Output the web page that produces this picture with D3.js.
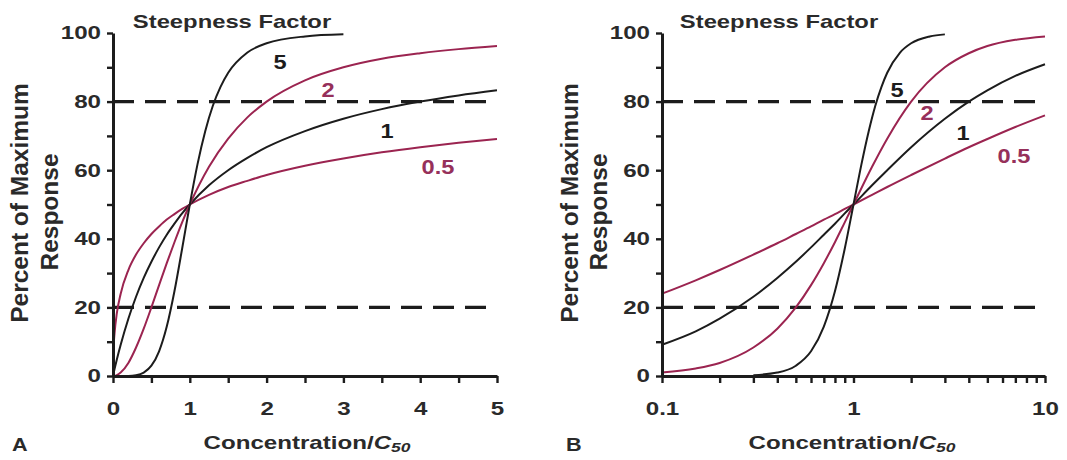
<!DOCTYPE html>
<html><head><meta charset="utf-8">
<script src="https://cdn.jsdelivr.net/npm/d3@7"></script>
<style>
html,body{margin:0;padding:0;background:#fff;}
svg{display:block;}
text{font-family:"Liberation Sans",Arial,sans-serif;font-weight:bold;}
</style></head>
<body>
<svg id="chart" width="1067" height="460"></svg>
<script>
// ---------- data ----------
const steepness = ["0.5", "1", "2", "5"];
const yTicks = [0, 10, 20, 30, 40, 50, 60, 70, 80, 90, 100];
const yTickLabels = ["0", "", "20", "", "40", "", "60", "", "80", "", "100"];
const guideLevels = [20, 80];

// Panel A (linear concentration)
const xTicksA = [0, 0.5, 1, 1.5, 2, 2.5, 3, 3.5, 4, 4.5, 5];
const xTickLabelsA = ["0", "", "1", "", "2", "", "3", "", "4", "", "5"];
const concA = [0, 0.01, 0.02, 0.05, 0.1, 0.2, 0.3, 0.4, 0.5, 0.6, 0.7, 0.8, 0.9, 1, 1.25, 1.5, 1.75, 2, 2.5, 3, 3.5, 4, 4.5, 5];
const respA_05 = [0, 9.1, 12.4, 18.3, 24.0, 30.9, 35.4, 38.7, 41.4, 43.6, 45.6, 47.2, 48.7, 50, 52.8, 55.1, 56.9, 58.6, 61.3, 63.4, 65.2, 66.7, 68.0, 69.1];
const respA_1 = [0, 1.0, 2.0, 4.8, 9.1, 16.7, 23.1, 28.6, 33.3, 37.5, 41.2, 44.4, 47.4, 50, 55.6, 60, 63.6, 66.7, 71.4, 75, 77.8, 80, 81.8, 83.3];
const respA_2 = [0, 0.01, 0.04, 0.25, 1.0, 3.8, 8.3, 13.8, 20, 26.5, 32.9, 39.0, 44.8, 50, 61.0, 69.2, 75.4, 80, 86.2, 90, 92.5, 94.1, 95.3, 96.2];
const concA5 = [0, 0.2, 0.3, 0.4, 0.5, 0.6, 0.7, 0.8, 0.9, 1, 1.1, 1.2, 1.3, 1.4, 1.5, 1.75, 2, 2.5, 3];
const respA_5 = [0, 0.03, 0.24, 1.0, 3.0, 7.2, 14.4, 24.7, 37.1, 50, 61.7, 71.3, 78.8, 84.3, 88.4, 94.3, 97.0, 99.0, 99.6];

// Panel B (log concentration)
const xTicksB = [0.1, 0.2, 0.3, 0.4, 0.5, 0.6, 0.7, 0.8, 0.9, 1, 2, 3, 4, 5, 6, 7, 8, 9, 10];
const xTickLabelsB = ["0.1", "", "", "", "", "", "", "", "", "1", "", "", "", "", "", "", "", "", "10"];
const concB = [0.1, 0.15, 0.2, 0.3, 0.4, 0.5, 0.6, 0.7, 0.8, 0.9, 1, 1.25, 1.5, 2, 3, 4, 5, 7, 10];
const respB_05 = [24.0, 27.9, 30.9, 35.4, 38.7, 41.4, 43.6, 45.6, 47.2, 48.7, 50, 52.8, 55.1, 58.6, 63.4, 66.7, 69.1, 72.6, 76.0];
const respB_1 = [9.1, 13.0, 16.7, 23.1, 28.6, 33.3, 37.5, 41.2, 44.4, 47.4, 50, 55.6, 60, 66.7, 75, 80, 83.3, 87.5, 90.9];
const respB_2 = [1.0, 2.2, 3.8, 8.3, 13.8, 20, 26.5, 32.9, 39.0, 44.8, 50, 61.0, 69.2, 80, 90, 94.1, 96.2, 98.0, 99.0];
const concB5 = [0.3, 0.4, 0.5, 0.6, 0.7, 0.8, 0.9, 1, 1.1, 1.2, 1.3, 1.4, 1.5, 1.75, 2, 2.5, 3];
const respB_5 = [0.24, 1.0, 3.0, 7.2, 14.4, 24.7, 37.1, 50, 61.7, 71.3, 78.8, 84.3, 88.4, 94.3, 97.0, 99.0, 99.6];

// ---------- styling ----------
const BLACK = "#1c1c1c", CRIMSON = "#9b2450", CRIMSON_TXT = "#96305a", TXT = "#2a2a2a";
const SX = 1.34; // horizontal widening of the reference lettering

const svg = d3.select("#chart");

function label(g, x, y, s, o = {}) {
  const t = g.append("text")
    .attr("transform", `translate(${x},${y}) scale(${o.sx || SX},1)`)
    .attr("text-anchor", o.anchor || "middle")
    .attr("dominant-baseline", "central")
    .attr("font-size", o.size || 18)
    .attr("fill", o.fill || TXT)
    .text(s);
  return t;
}

function panel(cfg) {
  const g = svg.append("g");
  const x = cfg.x, y = d3.scaleLinear().domain([0, 100]).range([376, 33]);

  // guide dashed lines
  g.selectAll(".guide").data(guideLevels).enter().append("line")
    .attr("x1", x.range()[0]).attr("x2", x.range()[1])
    .attr("y1", d => y(d)).attr("y2", d => y(d))
    .attr("stroke", BLACK).attr("stroke-width", 3.2)
    .attr("stroke-dasharray", "21,11");

  // curves
  const line = d3.line().x(d => x(d[0])).y(d => y(d[1])).curve(d3.curveMonotoneX);
  cfg.series.forEach(s => {
    g.append("path")
      .datum(s.xs.map((v, i) => [v, s.ys[i]]))
      .attr("d", line)
      .attr("fill", "none")
      .attr("stroke", s.color)
      .attr("stroke-width", 2)
      .attr("stroke-linejoin", "round");
  });

  // axes
  const ax = g.append("g").attr("transform", `translate(0,${y(0)})`)
    .call(d3.axisBottom(x).tickValues(cfg.xTicks)
      .tickFormat((d, i) => cfg.xLabels[i]).tickSize(7).tickSizeOuter(0).tickPadding(0));
  ax.selectAll("text").attr("y", 0).attr("dy", null)
    .attr("font-size", 18).attr("fill", TXT)
    .attr("transform", `translate(0,33) scale(${SX},1)`)
    .attr("dominant-baseline", "central");

  const ay = g.append("g").attr("transform", `translate(${x.range()[0]},0)`)
    .call(d3.axisLeft(y).tickValues(yTicks)
      .tickFormat((d, i) => yTickLabels[i]).tickSize(6).tickSizeOuter(0));
  ay.selectAll("text").attr("x", 0).attr("dy", null)
    .attr("font-size", 18).attr("fill", TXT)
    .attr("transform", `translate(-12,0) scale(${SX},1)`)
    .attr("dominant-baseline", "central");

  [ax, ay].forEach(a => {
    a.select(".domain").attr("stroke", BLACK).attr("stroke-width", 3);
    a.selectAll(".tick line").attr("stroke", BLACK).attr("stroke-width", 2.4);
    a.attr("font-family", null);
  });

  // titles
  label(g, cfg.titleX, 22, "Steepness Factor", { size: 17.5, sx: 1.36 });
  label(g, cfg.axisTitleX, 443, "", {}).call(t => {
    t.append("tspan").text("Concentration/");
    t.append("tspan").attr("font-style", "italic").text("C");
    t.append("tspan").attr("font-style", "italic").attr("font-size", 13).attr("dy", 4).text("50");
  });
  label(g, cfg.letterX, 445, cfg.letter, { anchor: "start", size: 18, sx: 1.2 });

  // y-axis title (rotated)
  g.append("text").attr("transform", `translate(${cfg.yT1},203) rotate(-90)`)
    .attr("text-anchor", "middle").attr("dominant-baseline", "central")
    .attr("font-size", 24.5).attr("fill", TXT).text("Percent of Maximum");
  g.append("text").attr("transform", `translate(${cfg.yT2},212) rotate(-90)`)
    .attr("text-anchor", "middle").attr("dominant-baseline", "central")
    .attr("font-size", 24.5).attr("fill", TXT).text("Response");

  // curve labels
  cfg.curveLabels.forEach((p, i) => {
    label(g, p[0], p[1], steepness[i], { size: 20, sx: 1.18, fill: i % 2 === 0 ? CRIMSON_TXT : BLACK });
  });
}

panel({
  x: d3.scaleLinear().domain([0, 5]).range([113, 497]),
  xTicks: xTicksA, xLabels: xTickLabelsA,
  series: [
    { xs: concA, ys: respA_05, color: CRIMSON },
    { xs: concA, ys: respA_1, color: BLACK },
    { xs: concA, ys: respA_2, color: CRIMSON },
    { xs: concA5, ys: respA_5, color: BLACK }
  ],
  titleX: 232, axisTitleX: 307, letter: "A", letterX: 12,
  yT1: 19, yT2: 49,
  curveLabels: [[438, 167], [387, 131], [328, 90], [280, 62]]
});

panel({
  x: d3.scaleLog().domain([0.1, 10]).range([662, 1045]),
  xTicks: xTicksB, xLabels: xTickLabelsB,
  series: [
    { xs: concB, ys: respB_05, color: CRIMSON },
    { xs: concB, ys: respB_1, color: BLACK },
    { xs: concB, ys: respB_2, color: CRIMSON },
    { xs: concB5, ys: respB_5, color: BLACK }
  ],
  titleX: 779, axisTitleX: 852, letter: "B", letterX: 566,
  yT1: 569, yT2: 598,
  curveLabels: [[1014, 156], [963, 133], [927, 113], [897, 90]]
});
</script>
</body></html>
